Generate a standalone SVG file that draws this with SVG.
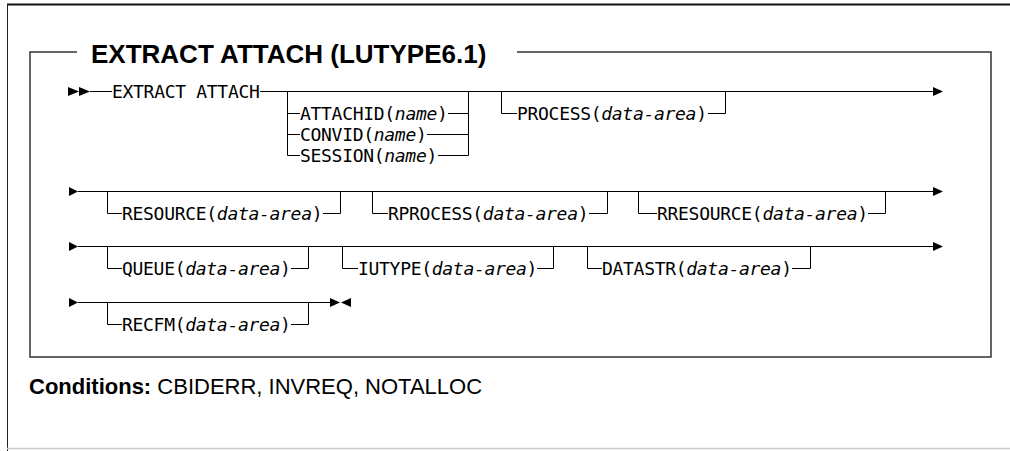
<svg xmlns="http://www.w3.org/2000/svg" width="1010" height="451" viewBox="0 0 1010 451">
<style>
.t{font-family:"DejaVu Sans Mono","Liberation Mono",monospace;font-size:18px;letter-spacing:-0.3px;fill:#000}
.i{font-style:italic}
.ln{stroke:#000;stroke-width:1;fill:none}
.bx{stroke:#333;stroke-width:1.5;fill:none}
.ah{fill:#000}
.title{font-family:"Liberation Sans",Arial,sans-serif;font-weight:bold;font-size:26px;fill:#000}
.cond{font-family:"Liberation Sans",Arial,sans-serif;font-size:22px;fill:#000}
</style>
<rect x="0" y="0" width="1010" height="451" fill="#fff"/>
<g id="frame">
<line x1="7" y1="4.5" x2="1010" y2="4.5" stroke="#111" stroke-width="2"/>
<line x1="7.5" y1="4" x2="7.5" y2="451" stroke="#222" stroke-width="1"/>
<line x1="7" y1="448.5" x2="1010" y2="448.5" stroke="#ccc" stroke-width="1.5"/>
</g>
<g id="box">
<path class="bx" d="M77,52 H30 V357 H991 V52 H517"/>
<text class="title" x="91" y="63">EXTRACT ATTACH (LUTYPE6.1)</text>
</g>
<g id="connectors">
<path class="ln" d="M90,91.5 H112 M260,91.5 H933"/>
<path class="ln" d="M287.5,91 V155.5 H300 M287,113.5 H300 M287,134.5 H300"/>
<path class="ln" d="M448,113.5 H468.5 M427,134.5 H468.5 M438,155.5 H468.5 V91"/>
<path class="ln" d="M501.5,91 V113.5 H517 M708,113.5 H725.5 V91"/>
<path class="ln" d="M78,191.5 H933"/>
<path class="ln" d="M107.5,191 V213.5 H122 M323,213.5 H340.5 V191"/>
<path class="ln" d="M372.5,191 V213.5 H388 M589,213.5 H607.5 V191"/>
<path class="ln" d="M638.5,191 V213.5 H657 M868,213.5 H885.5 V191"/>
<path class="ln" d="M78,246.5 H933"/>
<path class="ln" d="M107.5,246 V268.5 H122 M291,268.5 H308.5 V246"/>
<path class="ln" d="M342.5,246 V268.5 H358 M537,268.5 H553.5 V246"/>
<path class="ln" d="M587.5,246 V268.5 H602 M792,268.5 H810.5 V246"/>
<path class="ln" d="M78,302.5 H330"/>
<path class="ln" d="M107.5,302 V324.5 H122 M291,324.5 H308.5 V302"/>
<path class="ah" d="M68,87 L79,91.5 L68,96 Z M79,87 L90,91.5 L79,96 Z"/>
<path class="ah" d="M933,87 L943,91.5 L933,96 Z"/>
<path class="ah" d="M69,187 L78,191.5 L69,196 Z M933,187 L943,191.5 L933,196 Z"/>
<path class="ah" d="M69,242 L78,246.5 L69,251 Z M933,242 L943,246.5 L933,251 Z"/>
<path class="ah" d="M69,298 L78,302.5 L69,307 Z"/>
<path class="ah" d="M330,298 L340,302.5 L330,307 Z M351,298 L341,302.5 L351,307 Z"/>
</g>
<g id="n-extract"><text class="t" x="112" y="98">EXTRACT ATTACH</text></g>
<g id="n-attachid"><text class="t" x="300" y="120">ATTACHID(<tspan class="i">name</tspan>)</text></g>
<g id="n-convid"><text class="t" x="300" y="141">CONVID(<tspan class="i">name</tspan>)</text></g>
<g id="n-session"><text class="t" x="300" y="162">SESSION(<tspan class="i">name</tspan>)</text></g>
<g id="n-process"><text class="t" x="517" y="120">PROCESS(<tspan class="i">data-area</tspan>)</text></g>
<g id="n-resource"><text class="t" x="122" y="220">RESOURCE(<tspan class="i">data-area</tspan>)</text></g>
<g id="n-rprocess"><text class="t" x="388" y="220">RPROCESS(<tspan class="i">data-area</tspan>)</text></g>
<g id="n-rresource"><text class="t" x="657" y="220">RRESOURCE(<tspan class="i">data-area</tspan>)</text></g>
<g id="n-queue"><text class="t" x="122" y="275">QUEUE(<tspan class="i">data-area</tspan>)</text></g>
<g id="n-iutype"><text class="t" x="358" y="275">IUTYPE(<tspan class="i">data-area</tspan>)</text></g>
<g id="n-datastr"><text class="t" x="602" y="275">DATASTR(<tspan class="i">data-area</tspan>)</text></g>
<g id="n-recfm"><text class="t" x="122" y="331">RECFM(<tspan class="i">data-area</tspan>)</text></g>
<g id="conditions"><text class="cond" x="29" y="394"><tspan font-weight="bold">Conditions:</tspan> CBIDERR, INVREQ, NOTALLOC</text></g>
</svg>
